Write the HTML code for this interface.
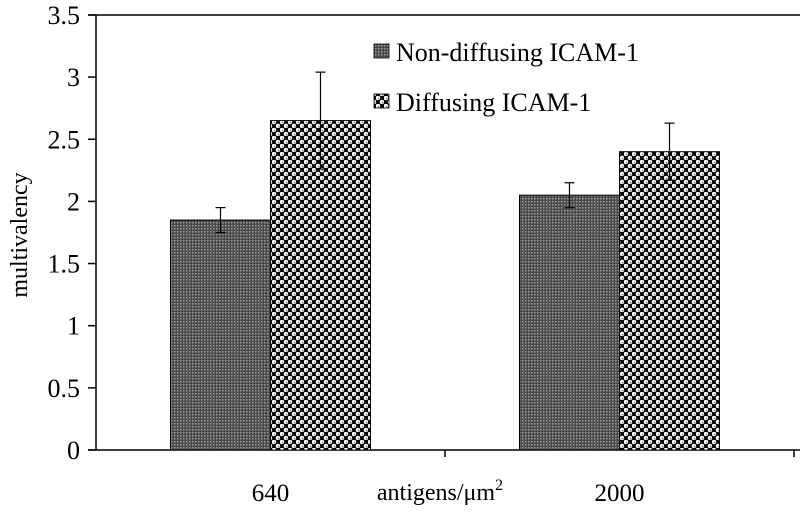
<!DOCTYPE html>
<html><head><meta charset="utf-8"><style>
body{margin:0;background:#fff}
svg{display:block;font-family:"Liberation Serif",serif}
</style></head><body>
<svg id="chart" width="800" height="515" viewBox="0 0 800 515">
<defs>
<pattern id="pGray" width="3" height="3" patternUnits="userSpaceOnUse">
<rect width="3" height="3" fill="#4a4a4a"/><rect x="0" y="0" width="1.5" height="1.5" fill="#9a9a9a"/>
</pattern>
<pattern id="pDots" width="8" height="8" patternUnits="userSpaceOnUse">
<rect width="8" height="8" fill="#000"/>
<circle cx="2" cy="2" r="2.3" fill="#fff"/><circle cx="6" cy="6" r="2.3" fill="#fff"/>
<circle cx="2.6" cy="2.6" r="0.8" fill="#777"/><circle cx="6.6" cy="6.6" r="0.8" fill="#777"/>
</pattern>
</defs>
<g id="axes"></g>
<g id="bars"></g>
<g>
<rect x="374" y="44" width="15" height="14" fill="url(#pGray)" stroke="#000" stroke-width="0.8"/>
<text x="396" y="61" font-size="26">Non-diffusing ICAM-1</text>
<rect x="374" y="94" width="15" height="14" fill="url(#pDots)" stroke="#000" stroke-width="0.8"/>
<text x="396" y="111" font-size="26">Diffusing ICAM-1</text>
</g>
<text transform="translate(27,235) rotate(-90)" text-anchor="middle" font-size="24">multivalency</text>
<text x="440" y="500" text-anchor="middle" font-size="24">antigens/μm<tspan dy="-10" font-size="16">2</tspan></text>
</svg>
<script>
const categories = ["640", "2000"];
const nonDiffusing = [1.85, 2.05];
const nonDiffusingErr = [0.1, 0.1];
const diffusing = [2.65, 2.4];
const diffusingErr = [0.39, 0.23];
const yTicks = [0, 0.5, 1, 1.5, 2, 2.5, 3, 3.5];
const yTickLabels = ["0", "0.5", "1", "1.5", "2", "2.5", "3", "3.5"];

const NS = "http://www.w3.org/2000/svg";
const x0 = 96, catW = 349, yBase = 450, yPer = 124.3, barW = 100;
const y = v => yBase - v * yPer;
function mk(tag, attrs, parent) {
  const e = document.createElementNS(NS, tag);
  for (const k in attrs) e.setAttribute(k, attrs[k]);
  parent.appendChild(e); return e;
}
const axes = document.getElementById("axes");
const bars = document.getElementById("bars");
let e;
e = mk("line", {x1: 96, y1: y(3.5), x2: 96, y2: yBase, stroke: "#000", "stroke-width": 1.5}, axes);


e = mk("line", {x1: 88, y1: y(3.5), x2: 800, y2: y(3.5), stroke: "#000", "stroke-width": 1.5}, axes);


e = mk("line", {x1: 88, y1: yBase, x2: 800, y2: yBase, stroke: "#000", "stroke-width": 1.5}, axes);


yTicks.forEach((t, i) => {
  e = mk("line", {x1: 88, y1: y(t), x2: 96, y2: y(t), stroke: "#000", "stroke-width": 1.5}, axes);
  
  
  e = mk("text", {x: 80, y: y(t) + 9, "text-anchor": "end", "font-size": 26}, axes);
  e.textContent = yTickLabels[i];
  
  
});
for (let i = 1; i <= categories.length; i++) {
  e = mk("line", {x1: x0 + catW * i, y1: yBase, x2: x0 + catW * i, y2: yBase + 7, stroke: "#000", "stroke-width": 1.5}, axes);
  
  
}
categories.forEach((c, i) => {
  const cx = x0 + catW * (i + 0.5);
  e = mk("text", {x: cx, y: 501, "text-anchor": "middle", "font-size": 25}, axes);
  e.textContent = c;
  
  
  const series = [[nonDiffusing, nonDiffusingErr, "url(#pGray)", "non-diffusing"], [diffusing, diffusingErr, "url(#pDots)", "diffusing"]];
  series.forEach((s, j) => {
    const v = s[0][i], er = s[1][i];
    const bx = cx - barW + j * barW;
    e = mk("rect", {x: bx, y: y(v), width: barW, height: yBase - y(v), fill: s[2], stroke: "#000", "stroke-width": 1}, bars);
    
    
    const ex = bx + barW / 2;
    e = mk("line", {x1: ex, y1: y(v + er), x2: ex, y2: y(v - er), stroke: "#000", "stroke-width": 1.2}, bars);
    
    
    e = mk("line", {x1: ex - 5, y1: y(v + er), x2: ex + 5, y2: y(v + er), stroke: "#000", "stroke-width": 1.2}, bars);
    
    
    e = mk("line", {x1: ex - 5, y1: y(v - er), x2: ex + 5, y2: y(v - er), stroke: "#000", "stroke-width": 1.2}, bars);
    
    
  });
});
</script>
</body></html>
